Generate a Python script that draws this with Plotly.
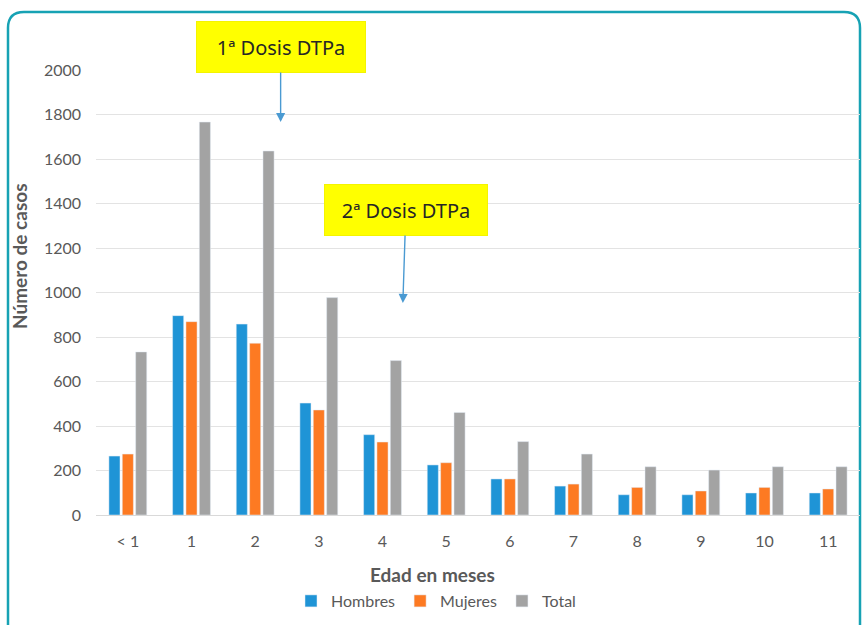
import plotly.graph_objects as go

# Casos por edad (meses) y sexo
edades = ["< 1", "1", "2", "3", "4", "5", "6", "7", "8", "9", "10", "11"]
hombres = [265, 896, 858, 503, 361, 225, 162, 130, 91, 91, 99, 99]
mujeres = [274, 869, 772, 472, 328, 235, 162, 139, 124, 108, 124, 117]
total = [733, 1766, 1636, 977, 694, 461, 330, 274, 217, 202, 217, 217]

y_ticks = list(range(0, 2001, 200))

FONT = "Lato, 'Open Sans', sans-serif"
FONT_NOTA = "'Noto Sans', Lato, sans-serif"
GRIS_TXT = "#595959"

fig = go.Figure()
fig.add_trace(go.Bar(name="Hombres", x=edades, y=hombres, marker_color="#1f94d6"))
fig.add_trace(go.Bar(name="Mujeres", x=edades, y=mujeres, marker_color="#fd7a22"))
fig.add_trace(go.Bar(name="Total", x=edades, y=total, marker_color="#a3a3a3"))

L, R, T, B = 96, 4, 70, 110
W, H = 864, 625
PW, PH = W - L - R, H - T - B


def px_x(px):
    return (px - L) / PW


def px_y(py):
    return (H - B - py) / PH


# Marco redondeado alrededor del gráfico
x0, x1, y0, y1, r = px_x(8), px_x(860), px_y(12), px_y(640), 16
rx, ry = r / PW, r / PH
path = (
    f"M {x0},{y1} L {x0},{y0 - ry} Q {x0},{y0} {x0 + rx},{y0} "
    f"L {x1 - rx},{y0} Q {x1},{y0} {x1},{y0 - ry} L {x1},{y1}"
)
fig.add_shape(type="path", path=path, xref="paper", yref="paper",
              line=dict(color="#17a2b4", width=2.5), layer="below")

flecha = "#4a9ad2"
fig.add_annotation(
    x=2.4, y=1766, xref="x", yref="y", text="1ª Dosis DTPa",
    showarrow=True, ax=0, ay=-75, arrowhead=2, arrowsize=1.3, arrowwidth=1.4,
    arrowcolor=flecha, bgcolor="#ffff00", bordercolor="#f4f400", borderpad=4,
    width=160, height=42, font=dict(family=FONT_NOTA, size=20, color="#262626"),
)
fig.add_annotation(
    x=4.32, y=953, xref="x", yref="y", text="2ª Dosis DTPa",
    showarrow=True, ax=3, ay=-93, arrowhead=2, arrowsize=1.3, arrowwidth=1.4,
    arrowcolor=flecha, bgcolor="#ffff00", bordercolor="#f4f400", borderpad=4,
    width=154, height=42, font=dict(family=FONT_NOTA, size=20, color="#262626"),
)

fig.add_annotation(
    x=px_x(432), y=px_y(574), xref="paper", yref="paper", text="<b>Edad en meses</b>",
    xanchor="center", yanchor="middle",
    showarrow=False, font=dict(family=FONT, size=19, color=GRIS_TXT),
)
fig.add_annotation(
    x=px_x(19), y=px_y(256), xref="paper", yref="paper", text="<b>Número de casos</b>",
    xanchor="center", yanchor="middle",
    showarrow=False, textangle=-90, font=dict(family=FONT, size=19, color=GRIS_TXT),
)

fig.update_layout(
    width=W, height=H,
    margin=dict(l=L, r=R, t=T, b=B),
    paper_bgcolor="white", plot_bgcolor="white",
    barmode="group", bargap=0.37, bargroupgap=0.17,
    font=dict(family=FONT, size=16, color=GRIS_TXT),
    showlegend=True,
    legend=dict(orientation="h", x=px_x(436), xanchor="center", y=px_y(601), yanchor="middle",
                font=dict(family=FONT, size=16, color=GRIS_TXT), itemwidth=30,
                tracegroupgap=0, bgcolor="rgba(0,0,0,0)"),
    xaxis=dict(showgrid=False, showline=True, linecolor="#d9d9d9", linewidth=1,
               ticks="", ticklabelstandoff=12, tickfont=dict(size=16)),
    yaxis=dict(range=[0, 2000], tickvals=y_ticks, showgrid=True, gridcolor="#e3e3e3",
               gridwidth=1, zeroline=False, showline=False, ticks="",
               ticklabelstandoff=14, tickfont=dict(size=16)),
)

fig.write_html("out.html")
